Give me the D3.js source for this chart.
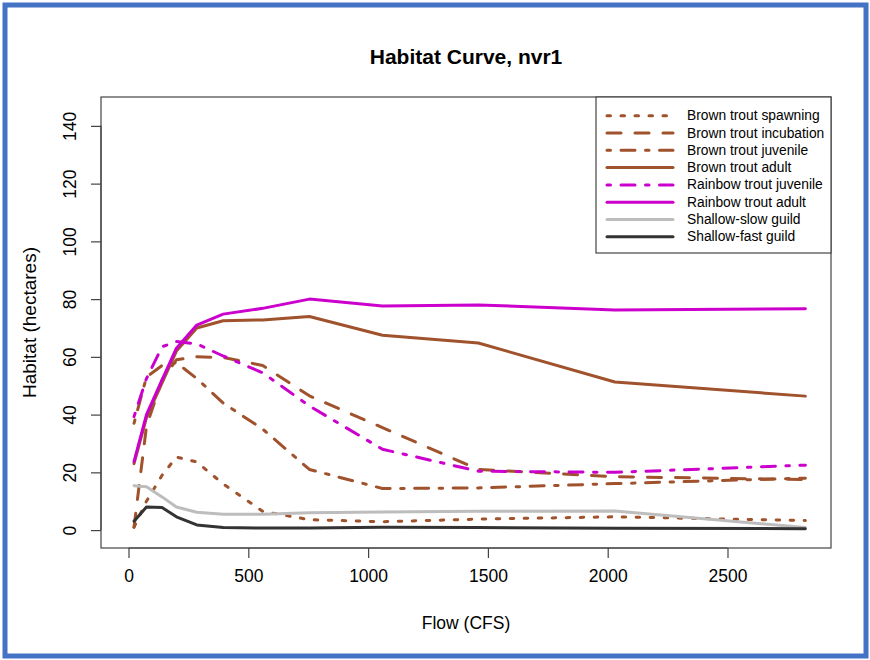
<!DOCTYPE html>
<html>
<head>
<meta charset="utf-8">
<script src="https://cdn.jsdelivr.net/npm/d3@7"></script>
<style>
  html, body { margin: 0; padding: 0; background: #fff; }
  svg { display: block; font-family: "Liberation Sans", Arial, sans-serif; }
</style>
</head>
<body>
<svg id="chart"></svg>
<script>
/* ------------ DATA --------------------------------------------------- */
const flow         = [23, 75, 140, 200, 285, 395, 560, 755, 1060, 1460, 2030, 2825];
const btSpawning   = [1, 10, 19, 25.3, 23.6, 16, 6.5, 3.6, 2.9, 3.8, 4.6, 3.3];
const btIncubation = [1, 36, 52, 59, 60, 59.8, 57, 46.5, 35.5, 21, 18.5, 17.5];
const btJuvenile   = [37, 53, 57, 58, 52.5, 44, 35, 21, 14.4, 14.6, 16.1, 18];
const btAdult      = [23, 39, 51, 62, 70, 72.5, 72.8, 74, 67.5, 64.8, 51.3, 46.4];
const rtJuvenile   = [39.3, 52.5, 63.5, 65.3, 64.5, 60.3, 54.5, 43, 28, 20.4, 20, 22.5];
const rtAdult      = [23.7, 40, 52, 63, 71, 74.8, 76.8, 80, 77.6, 78, 76.2, 76.7];
const shallowSlow  = [15.4, 15, 11.5, 8, 6.2, 5.5, 5.5, 6, 6.3, 6.5, 6.6, 0.9];
const shallowFast  = [3.1, 8, 7.8, 4.6, 1.8, 0.9, 0.7, 0.7, 1, 0.9, 0.6, 0.5];

const seriesNames = ['Brown trout spawning', 'Brown trout incubation', 'Brown trout juvenile',
  'Brown trout adult', 'Rainbow trout juvenile', 'Rainbow trout adult',
  'Shallow-slow guild', 'Shallow-fast guild'];
const seriesValues = [btSpawning, btIncubation, btJuvenile, btAdult, rtJuvenile, rtAdult, shallowSlow, shallowFast];

const xTicks = [0, 500, 1000, 1500, 2000, 2500];
const yTicks = [0, 20, 40, 60, 80, 100, 120, 140];

/* ------------ CONFIG ------------------------------------------------- */
const W = 870, H = 660;
const box = { left: 101, right: 831, top: 97, bottom: 548 };
const u = 3.5; // R dash unit
const BROWN = '#a0522d', MAG = '#cc00cc';
const styles = [
  { c: BROWN, dash: [1, 3] },
  { c: BROWN, dash: [4, 4] },
  { c: BROWN, dash: [1, 3, 4, 3] },
  { c: BROWN, dash: null },
  { c: MAG, dash: [1, 3, 4, 3] },
  { c: MAG, dash: null },
  { c: '#bdbdbd', dash: null },
  { c: '#333333', dash: null }
];
const dashStr = d => d ? d.map(v => v * u).join(' ') : null;

/* ------------ SVG ---------------------------------------------------- */
const svg = d3.select('#chart').attr('width', W).attr('height', H);

svg.append('rect').attr('x', 5).attr('y', 5).attr('width', W - 9).attr('height', H - 9)
  .attr('fill', '#fff').attr('stroke', '#4472c4').attr('stroke-width', 5);

/* ------------ SCALES ------------------------------------------------- */
const x = d3.scaleLinear().domain([-114.8, 2932]).range([box.left, box.right]);
const y = d3.scaleLinear().domain([-6.2, 150]).range([box.bottom, box.top]);

/* ------------ AXES --------------------------------------------------- */
const xAxis = svg.append('g')
  .attr('transform', `translate(0,${box.bottom})`)
  .call(d3.axisBottom(x).tickValues(xTicks).tickSize(10).tickPadding(12).tickFormat(d3.format('d')));
const yAxis = svg.append('g')
  .attr('transform', `translate(${box.left},0)`)
  .call(d3.axisLeft(y).tickValues(yTicks).tickSize(10).tickFormat(d3.format('d')));

[xAxis, yAxis].forEach(g => {
  g.select('.domain').remove();
  g.selectAll('line').attr('stroke', '#444').attr('stroke-width', 1.2);
});
xAxis.append('line').attr('x1', x(0)).attr('x2', x(2500)).attr('stroke', '#444').attr('stroke-width', 1.2);
yAxis.append('line').attr('y1', y(0)).attr('y2', y(140)).attr('stroke', '#444').attr('stroke-width', 1.2);

xAxis.selectAll('text').attr('font-size', 17.5).attr('fill', '#000')
  .attr('font-family', '"Liberation Sans", Arial, sans-serif');
yAxis.selectAll('text')
  .attr('font-size', 17.5).attr('fill', '#000')
  .attr('font-family', '"Liberation Sans", Arial, sans-serif')
  .attr('text-anchor', 'middle').attr('dy', null)
  .attr('dominant-baseline', 'central')
  .attr('x', null)
  .attr('transform', 'translate(-31,0) rotate(-90)');

/* ------------ LINES -------------------------------------------------- */
const line = d3.line().x((d, i) => x(flow[i])).y(d => y(d));

svg.append('g').selectAll('path')
  .data(seriesValues)
  .join('path')
    .attr('d', line)
    .attr('fill', 'none')
    .attr('stroke', (d, i) => styles[i].c)
    .attr('stroke-width', 3)
    .attr('stroke-linecap', 'round')
    .attr('stroke-linejoin', 'round')
    .attr('stroke-dasharray', (d, i) => dashStr(styles[i].dash));

/* ------------ BOX ---------------------------------------------------- */
svg.append('rect')
  .attr('x', box.left).attr('y', box.top)
  .attr('width', box.right - box.left).attr('height', box.bottom - box.top)
  .attr('fill', 'none').attr('stroke', '#444').attr('stroke-width', 1.2);

/* ------------ TITLES ------------------------------------------------- */
svg.append('text')
  .attr('x', (box.left + box.right) / 2).attr('y', 64)
  .attr('text-anchor', 'middle').attr('font-size', 21).attr('font-weight', 'bold')
  .text('Habitat Curve, nvr1');

svg.append('text')
  .attr('x', (box.left + box.right) / 2).attr('y', 629)
  .attr('text-anchor', 'middle').attr('font-size', 17.5)
  .text('Flow (CFS)');

svg.append('text')
  .attr('transform', `translate(29,${(box.top + box.bottom) / 2}) rotate(-90)`)
  .attr('text-anchor', 'middle').attr('dominant-baseline', 'central').attr('font-size', 19)
  .text('Habitat (hectares)');

/* ------------ LEGEND ------------------------------------------------- */
const leg = svg.append('g').attr('transform', 'translate(596,97)');
leg.append('rect').attr('width', 235).attr('height', 156)
  .attr('fill', '#fff').attr('stroke', '#444').attr('stroke-width', 1.2);

const rows = leg.selectAll('g.row')
  .data(seriesNames)
  .join('g').attr('class', 'row')
  .attr('transform', (d, i) => `translate(0,${18.7 + i * 17.3})`);

rows.append('line')
  .attr('x1', 11).attr('x2', 77)
  .attr('stroke', (d, i) => styles[i].c)
  .attr('stroke-width', 3)
  .attr('stroke-linecap', 'round')
  .attr('stroke-dasharray', (d, i) => dashStr(styles[i].dash));

rows.append('text')
  .attr('x', 91).attr('dominant-baseline', 'central')
  .attr('font-size', 13.8)
  .text(d => d);
</script>
</body>
</html>
